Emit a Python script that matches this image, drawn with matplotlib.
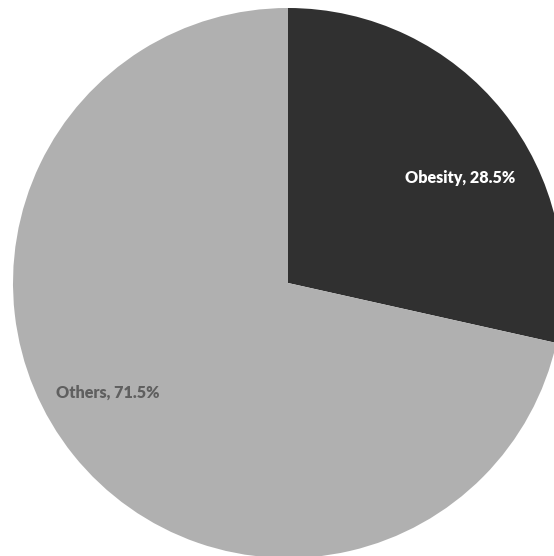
import matplotlib
matplotlib.use("Agg")
import matplotlib.pyplot as plt

categories = ["Obesity", "Others"]
values = [28.5, 71.5]
colors = ["#303030", "#b0b0b0"]
label_colors = ["#ffffff", "#5f5f5f"]

W, H = 554, 556
cx, cy, R = 288, 283, 275

fig = plt.figure(figsize=(W / 100, H / 100), dpi=100)
ax = fig.add_axes([0, 0, 1, 1])
ax.pie(values, colors=colors, startangle=90, counterclock=False, radius=1,
       center=(0, 0), wedgeprops=dict(linewidth=0))
ax.set_xlim(-cx / R, (W - cx) / R)
ax.set_ylim(-(H - cy) / R, cy / R)
ax.set_aspect("equal")
ax.axis("off")

label_pos = [(460, 178), (108, 393)]
for cat, v, lc, (px, py) in zip(categories, values, label_colors, label_pos):
    ax.text((px - cx) / R, (cy - py) / R, f"{cat}, {v}%", color=lc,
            ha="center", va="center", fontsize=11.6, fontweight="heavy",
            family=["Lato", "DejaVu Sans"])

fig.savefig("out.png", dpi=100)
